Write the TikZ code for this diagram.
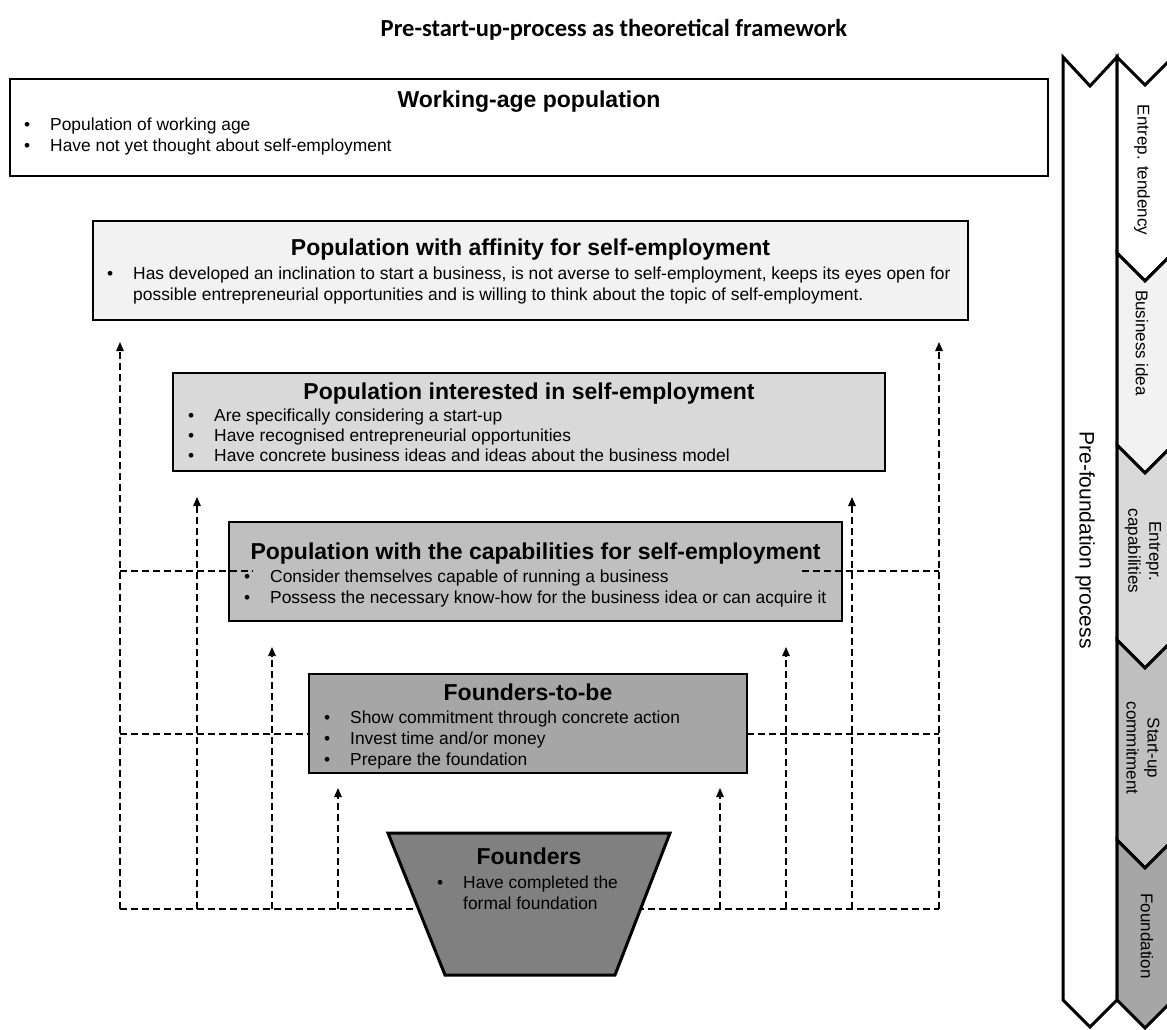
\documentclass[tikz,border=0pt]{standalone}
\usepackage{fontspec}
\setmainfont{Liberation Sans}
\newfontfamily\calfont{Carlito}
\usetikzlibrary{arrows.meta}

\definecolor{shadeA}{HTML}{F2F2F2}
\definecolor{shadeB}{HTML}{D9D9D9}
\definecolor{shadeC}{HTML}{BFBFBF}
\definecolor{shadeD}{HTML}{A6A6A6}
\definecolor{shadeE}{HTML}{808080}

\tikzset{
    popbox/.style={draw=black, line width=2.5pt, inner sep=0pt},
    boxtitle/.style={font=\fontsize{23}{27}\selectfont\bfseries, anchor=base, inner sep=0pt},
    bulline/.style={font=\fontsize{17.4}{20}\selectfont, anchor=base west, inner sep=0pt},
    dashline/.style={line width=1.3pt, dash pattern=on 7pt off 4pt},
    flow/.style={dashline, -{Triangle[length=9pt,width=7.5pt]}},
    phase/.style={draw=black, line width=3pt, line join=miter},
    phaselabel/.style={rotate=-90, font=\fontsize{17}{21}\selectfont, align=center, inner sep=0pt}
}
\newcommand{\bul}{\makebox[26pt][l]{\textbullet}}

\begin{document}
\begin{tikzpicture}[x=1pt, y=-1pt]
    \useasboundingbox (0,0) rectangle (1167,1029);
    \node[font=\calfont\bfseries\fontsize{24.5}{28}\selectfont] (title) at (614,30) {Pre-start-up-process as theoretical framework};

    % The population boxes, from wide to narrow.
        \node[popbox, fill=white, minimum width=1038pt, minimum height=97pt] (wap) at (529,127.5) {};
        \node[popbox, fill=shadeA, minimum width=875pt, minimum height=99pt] (aff) at (530.5,270.5) {};
        \node[popbox, fill=shadeB, minimum width=712pt, minimum height=98pt] (int) at (529,422) {};
        \node[popbox, fill=shadeC, minimum width=613pt, minimum height=99pt] (cap) at (535.5,571.5) {};
        \node[popbox, fill=shadeD, minimum width=438pt, minimum height=99pt] (tobe) at (528,723.5) {};

    % Box texts.
        \node[boxtitle] (waptitle) at (529,107) {Working-age population};
        \node[bulline] (wap1) at (24,130) {\bul Population of working age};
        \node[bulline] (wap2) at (24,151) {\bul Have not yet thought about self-employment};

        \node[boxtitle] (afftitle) at (530.5,255) {Population with affinity for self-employment};
        \node[bulline] (aff1) at (107,279) {\bul Has developed an inclination to start a business, is not averse to self-employment, keeps its eyes open for};
        \node[bulline] (aff2) at (133,300) {possible entrepreneurial opportunities and is willing to think about the topic of self-employment.};

        \node[boxtitle] (inttitle) at (529,399) {Population interested in self-employment};
        \node[bulline] (int1) at (188,421) {\bul Are specifically considering a start-up};
        \node[bulline] (int2) at (188,441) {\bul Have recognised entrepreneurial opportunities};
        \node[bulline] (int3) at (188,461) {\bul Have concrete business ideas and ideas about the business model};

        \node[boxtitle] (captitle) at (535.5,559) {Population with the capabilities for self-employment};
        \node[bulline] (cap1) at (244,582) {\bul Consider themselves capable of running a business};
        \node[bulline] (cap2) at (244,603) {\bul Possess the necessary know-how for the business idea or can acquire it};

        \node[boxtitle] (tobetitle) at (528,700) {Founders-to-be};
        \node[bulline] (tobe1) at (324,723) {\bul Show commitment through concrete action};
        \node[bulline] (tobe2) at (324,744) {\bul Invest time and/or money};
        \node[bulline] (tobe3) at (324,765) {\bul Prepare the foundation};

    % Dashed feedback lines with arrows.
        \foreach \x/\tip [count=\i] in {120/342,197/497,272/647,338/788,720/788,786/647,852/497,939/342} {
            \coordinate (foot\i) at (\x,909);
            \coordinate (tip\i) at (\x,\tip);
            \draw[flow] (foot\i) -- (tip\i);
        }
        \draw[dashline] (foot1) -- (foot8);
        \coordinate (capL) at (253,571);
        \coordinate (capR) at (802,571);
        \coordinate (tobeL) at (309,734);
        \coordinate (tobeR) at (747,734);
        \draw[dashline] (foot1 |- capL) -- (capL);
        \draw[dashline] (capR) -- (foot8 |- capR);
        \draw[dashline] (foot1 |- tobeL) -- (tobeL);
        \draw[dashline] (tobeR) -- (foot8 |- tobeR);

    % The founders trapezoid.
        \draw[phase, fill=shadeE] (388,833) -- (670,833) -- (615,975) -- (445,975) -- cycle;
        \node[boxtitle] (fndtitle) at (529,864) {Founders};
        \node[bulline] (fnd1) at (437,888) {\bul Have completed the};
        \node[bulline] (fnd2) at (463,909) {formal foundation};

    % Process chevrons on the right.
        \draw[phase, fill=white] (1063,57) -- (1090,86) -- (1117,57) -- (1117,1000) -- (1090,1027) -- (1063,1000) -- cycle;
        \foreach \top/\bot/\shade in {57/253/white,253/445/shadeA,445/640/shadeB,640/840/shadeC,840/1000/shadeD} {
            \draw[phase, fill=\shade] (1117,\top) -- (1145,\top+28) -- (1173,\top) -- (1173,\bot) -- (1145,\bot+28) -- (1117,\bot) -- cycle;
        }
        \node[phaselabel, font=\fontsize{21}{24}\selectfont] (prefnd) at (1085,540) {Pre-foundation process};
        \node[phaselabel] (tend) at (1142,170) {Entrep. tendency};
        \node[phaselabel] (idea) at (1142,343) {Business idea};
        \node[phaselabel] (capab) at (1143,551) {Entrepr.\\capabilities};
        \node[phaselabel] (commit) at (1143,748) {Start-up\\commitment};
        \node[phaselabel] (found) at (1147,936) {Foundation};
\end{tikzpicture}
\end{document}
